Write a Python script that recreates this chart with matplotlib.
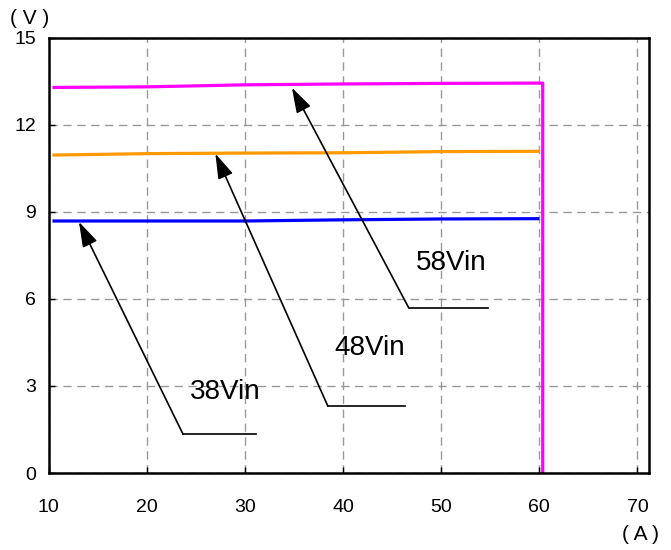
import numpy as np
import matplotlib.pyplot as plt

plt.rcParams["font.family"] = ["Liberation Sans", "DejaVu Sans"]

# current (A) and output voltage (V) for each input voltage
amps = [10.4, 20, 30, 40, 50, 60.0]
v38 = [8.68, 8.68, 8.68, 8.72, 8.75, 8.76]
v48 = [10.95, 11.0, 11.02, 11.03, 11.07, 11.08]
amps58 = [10.4, 20, 30, 40, 50, 60.35, 60.35]
v58 = [13.28, 13.3, 13.37, 13.4, 13.42, 13.43, 0.0]

labels = ["38Vin", "48Vin", "58Vin"]
arrow_tips = [(13.1, 8.65), (27.0, 11.0), (34.8, 13.27)]
elbows = [(23.7, 1.34), (38.45, 2.31), (46.7, 5.69)]
line_ends = [31.1, 46.3, 54.8]
label_pos = [(27.96, 2.79), (42.76, 4.29), (51.0, 7.23)]

xticks = [10, 20, 30, 40, 50, 60, 70]
yticks = [0, 3, 6, 9, 12, 15]

fig = plt.figure(figsize=(6.71, 5.5), dpi=100)
ax = fig.add_axes([0.0723, 0.14, 0.8945, 0.7918])

ax.plot(amps, v38, color="#0000FF", lw=2.3, solid_capstyle="butt")
ax.plot(amps, v48, color="#FF9900", lw=2.3, solid_capstyle="butt")
ax.plot(amps58, v58, color="#FF00FF", lw=2.3, solid_capstyle="butt")

for lab, tip, elb, xe, lp in zip(labels, arrow_tips, elbows, line_ends, label_pos):
    ax.plot([elb[0], xe], [elb[1], elb[1]], color="black", lw=1.2)
    ax.annotate("", xy=tip, xytext=elb,
                arrowprops=dict(arrowstyle="-|>,head_length=0.7,head_width=0.22",
                                color="black", lw=1.2,
                                mutation_scale=22, shrinkA=0, shrinkB=0))
    ax.text(lp[0], lp[1], lab, fontsize=20, ha="center", va="center")

ax.set_xlim(10, 71.15)
ax.set_ylim(0, 15)
ax.set_xticks(xticks)
ax.set_yticks(yticks)
ax.grid(True, color="#999999", lw=1, linestyle=(0, (6, 4)))
ax.tick_params(direction="in", length=4, width=1, labelsize=14)
ax.tick_params(axis="x", pad=19)
ax.tick_params(axis="y", pad=9)
for t in ax.get_xticklabels():
    t.set_x(t.get_position()[0])
for s in ax.spines.values():
    s.set_linewidth(1.8)

fig.text(30 / 671, 1 - 18 / 550, "( V )", fontsize=15, ha="center", va="center")
fig.text(640 / 671, 1 - 535 / 550, "( A )", fontsize=15, ha="center", va="center")

fig.savefig("out.png", dpi=100)
